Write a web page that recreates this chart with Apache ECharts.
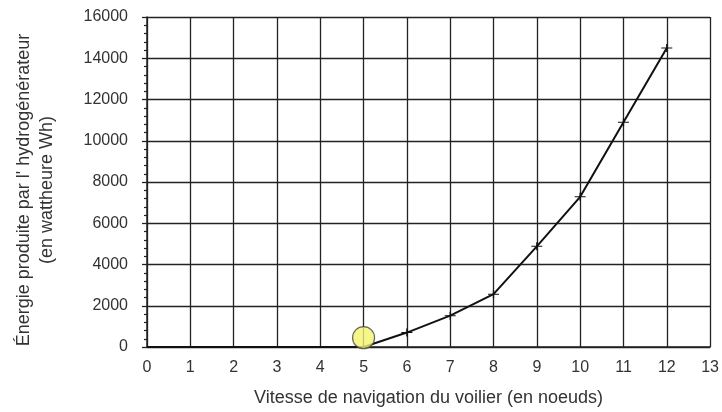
<!DOCTYPE html>
<html>
<head>
<meta charset="utf-8">
<script src="https://cdn.jsdelivr.net/npm/echarts@6/dist/echarts.min.js"></script>
<style>
  html, body { margin: 0; padding: 0; background: #fff; }
  #chart { width: 722px; height: 412px; }
</style>
</head>
<body>
<div id="chart"></div>
<script>
// Boat speed (knots) and energy produced by the hydro-generator (Wh)
const speeds = [0, 1, 2, 3, 4, 5, 6, 7, 8, 9, 10, 11, 12];
const energy = [0, 0, 0, 0, 0, 0, 700, 1520, 2560, 4880, 7280, 10900, 14500];
// speeds where a measurement cross is drawn
const measuredFrom = 6;
// highlighted operating point
const highlight = [[5, 450]];

const yTicks = { min: 0, max: 16000, step: 2000 };
const xTicks = { min: 0, max: 13, step: 1 };

const font = '"Liberation Sans", Arial, sans-serif';
const ink = '#222';
const textColor = '#333';

const lineData = speeds.map((s, i) => ({
  value: [s, energy[i]],
  symbol: s >= measuredFrom ? 'path://M0,4.4H10V5.6H0Z M4.4,0H5.6V10H4.4Z' : 'none'
}));

const chart = echarts.init(document.getElementById('chart'), null, { renderer: 'canvas' });
chart.setOption({
  animation: false,
  backgroundColor: '#fff',
  grid: { left: 147, right: 11, top: 17, bottom: 65, containLabel: false },
  xAxis: {
    type: 'value',
    min: xTicks.min, max: xTicks.max, interval: xTicks.step,
    name: 'Vitesse de navigation du voilier (en noeuds)',
    nameLocation: 'middle', nameGap: 42,
    nameTextStyle: { fontFamily: font, fontSize: 18, color: textColor },
    axisLine: { show: true, lineStyle: { color: ink, width: 1.5 } },
    axisTick: { show: false },
    axisLabel: { fontFamily: font, fontSize: 16, color: textColor, margin: 13 },
    splitLine: { show: true, lineStyle: { color: ink, width: 1.3 } }
  },
  yAxis: {
    type: 'value',
    min: yTicks.min, max: yTicks.max, interval: yTicks.step,
    name: "Énergie produite par l' hydrogénérateur\n(en wattheure Wh)",
    nameLocation: 'middle', nameGap: 88, nameRotate: 90,
    nameTextStyle: {
      fontFamily: font, fontSize: 18, color: textColor, lineHeight: 23,
      padding: [0, 16, 0, 0]
    },
    axisLine: { show: true, lineStyle: { color: ink, width: 1.5 } },
    axisTick: { show: true, length: 5, lineStyle: { color: ink, width: 1.3 } },
    minorTick: { show: true, splitNumber: 5, length: 3, lineStyle: { color: ink, width: 1.2 } },
    axisLabel: {
      fontFamily: font, fontSize: 16, color: textColor, margin: 19,
      formatter: v => String(v)
    },
    splitLine: { show: true, lineStyle: { color: ink, width: 1.3 } }
  },
  series: [
    {
      type: 'line',
      data: lineData,
      symbolSize: [11, 8],
      showSymbol: true,
      lineStyle: { color: '#111', width: 2 },
      itemStyle: { color: '#111' },
      z: 3
    },
    {
      type: 'scatter',
      data: highlight,
      symbol: 'circle',
      symbolSize: 22,
      itemStyle: { color: '#f4f46e', borderColor: '#444', borderWidth: 1.2 },
      z: 4
    }
  ]
});
</script>
</body>
</html>
